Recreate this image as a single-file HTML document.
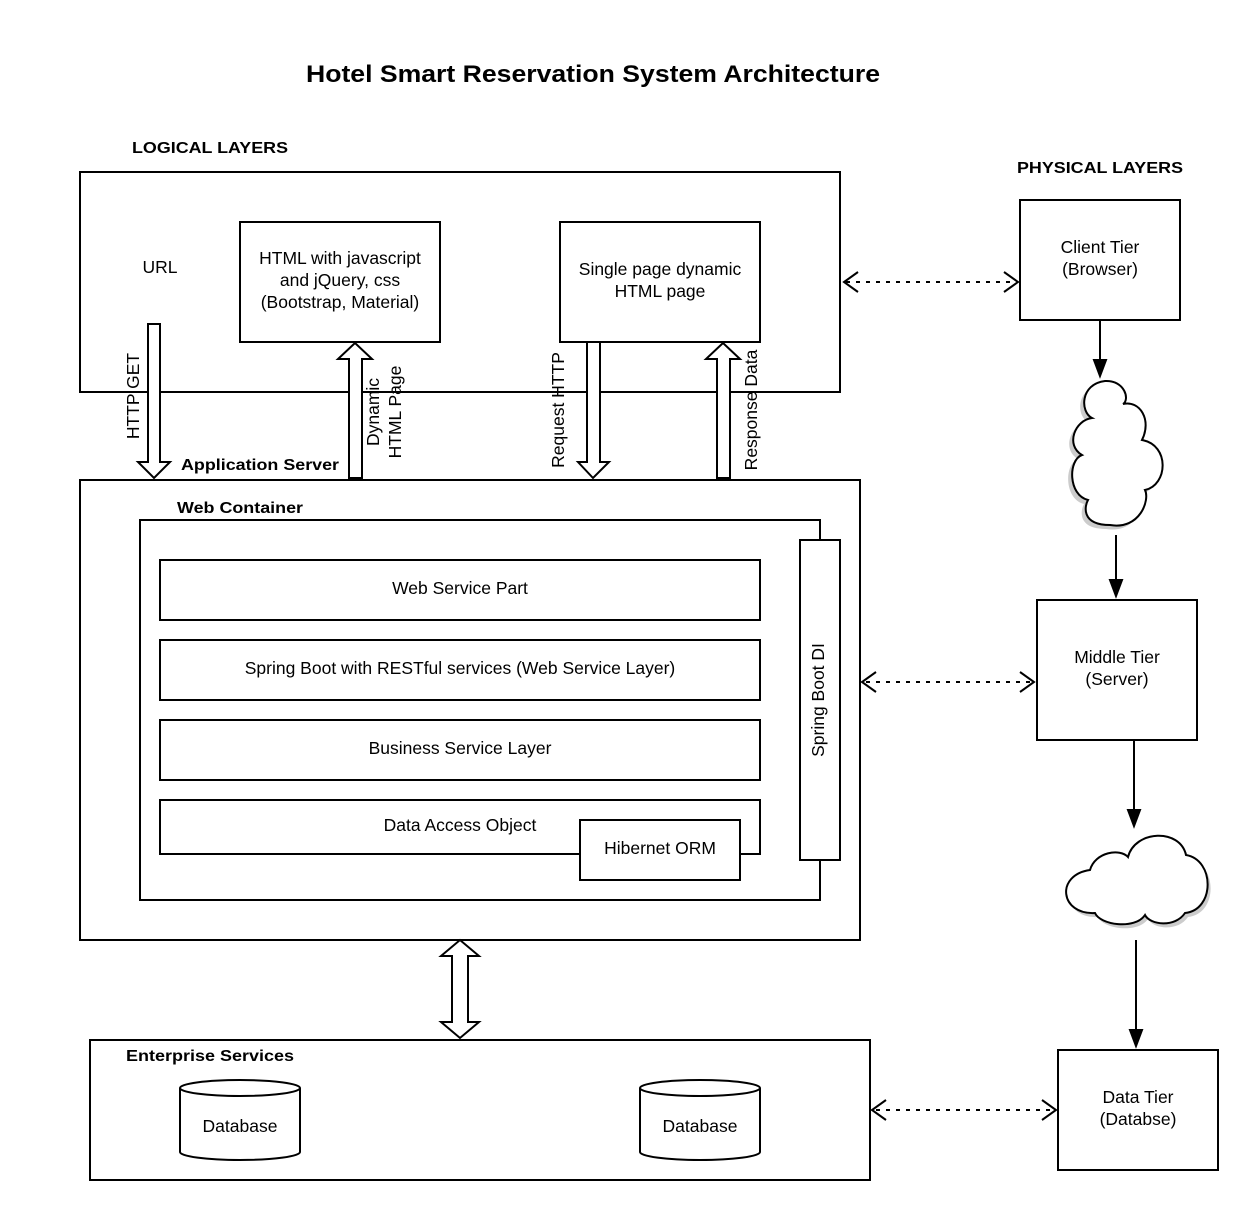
<!DOCTYPE html>
<html><head><meta charset="utf-8"><style>body{margin:0;background:#fff}svg{display:block}</style></head>
<body>
<svg width="1260" height="1220" viewBox="0 0 1260 1220" xmlns="http://www.w3.org/2000/svg" font-family="Liberation Sans, sans-serif">
<rect width="1260" height="1220" fill="#fff"/>
<g fill="#000">
<text x="593" y="82" font-size="24" font-weight="bold" text-anchor="middle" textLength="574" lengthAdjust="spacingAndGlyphs">Hotel Smart Reservation System Architecture</text>
<text x="210" y="153" font-size="16" font-weight="bold" text-anchor="middle" textLength="156" lengthAdjust="spacingAndGlyphs">LOGICAL LAYERS</text>
<text x="1100" y="173" font-size="16" font-weight="bold" text-anchor="middle" textLength="166" lengthAdjust="spacingAndGlyphs">PHYSICAL LAYERS</text>
</g>
<g fill="#fff" stroke="#000" stroke-width="2">
<rect x="80" y="172" width="760" height="220"/>
<rect x="240" y="222" width="200" height="120"/>
<rect x="560" y="222" width="200" height="120"/>
<rect x="80" y="480" width="780" height="460"/>
<rect x="140" y="520" width="680" height="380"/>
<rect x="160" y="560" width="600" height="60"/>
<rect x="160" y="640" width="600" height="60"/>
<rect x="160" y="720" width="600" height="60"/>
<rect x="160" y="800" width="600" height="54"/>
<rect x="580" y="820" width="160" height="60"/>
<rect x="800" y="540" width="40" height="320"/>
<rect x="90" y="1040" width="780" height="140"/>
<rect x="1020" y="200" width="160" height="120"/>
<rect x="1037" y="600" width="160" height="140"/>
<rect x="1058" y="1050" width="160" height="120"/>
<path d="M148 324 H160 V462 H170 L154 478 L138 462 H148 Z"/>
<path d="M349 478 H362 V359 H372 L355 343 L338 359 H349 Z"/>
<path d="M587 342 H600 V462 H609 L593 478 L578 462 H587 Z"/>
<path d="M717 478 H730 V359 H740 L723 343 L706 359 H717 Z"/>
<path d="M452 956 L441 956 L460 940 L479 956 L468 956 V1022 L479 1022 L460 1038 L441 1022 L452 1022 Z"/>
<path d="M180 1088 V1152 A60 8 0 0 0 300 1152 V1088"/>
<ellipse cx="240" cy="1088" rx="60" ry="8"/>
<path d="M640 1088 V1152 A60 8 0 0 0 760 1152 V1088"/>
<ellipse cx="700" cy="1088" rx="60" ry="8"/>
</g>
<g stroke-width="2">
<path d="M1092 418 C1080 412 1080 384 1105 381 C1125 380 1130 400 1123 404 C1140 400 1152 420 1142 440 C1170 445 1168 485 1145 490 C1150 500 1140 530 1110 525 C1080 525 1085 505 1088 500 C1068 495 1068 460 1082 455 C1065 445 1075 420 1092 418 Z" fill="#ccc" stroke="none" transform="translate(-4,4)"/>
<path d="M1092 418 C1080 412 1080 384 1105 381 C1125 380 1130 400 1123 404 C1140 400 1152 420 1142 440 C1170 445 1168 485 1145 490 C1150 500 1140 530 1110 525 C1080 525 1085 505 1088 500 C1068 495 1068 460 1082 455 C1065 445 1075 420 1092 418 Z" fill="#fff" stroke="#000"/>
<path d="M1090 870 C1095 852 1120 848 1128 857 C1135 830 1180 828 1186 855 C1215 860 1215 910 1185 913 C1175 928 1150 925 1145 915 C1135 930 1100 925 1095 913 C1060 915 1055 875 1090 870 Z" fill="#ccc" transform="translate(3,4)"/>
<path d="M1090 870 C1095 852 1120 848 1128 857 C1135 830 1180 828 1186 855 C1215 860 1215 910 1185 913 C1175 928 1150 925 1145 915 C1135 930 1100 925 1095 913 C1060 915 1055 875 1090 870 Z" fill="#fff" stroke="#000"/>
</g>
<g stroke="#000" stroke-width="2" fill="#000">
<line x1="1100" y1="320" x2="1100" y2="362"/><path d="M1094 360 L1106 360 L1100 376 Z"/>
<line x1="1116" y1="535" x2="1116" y2="582"/><path d="M1110 580 L1122 580 L1116 596 Z"/>
<line x1="1134" y1="740" x2="1134" y2="812"/><path d="M1128 810 L1140 810 L1134 826 Z"/>
<line x1="1136" y1="940" x2="1136" y2="1032"/><path d="M1130 1030 L1142 1030 L1136 1046 Z"/>
</g>
<g stroke="#000" stroke-width="2" fill="none">
<line x1="846" y1="282" x2="1014" y2="282" stroke-dasharray="4 6"/>
<path d="M858 272 L844 282 L858 292 M1004 272 L1018 282 L1004 292"/>
<line x1="866" y1="682" x2="1030" y2="682" stroke-dasharray="4 6"/>
<path d="M876 672 L862 682 L876 692 M1020 672 L1034 682 L1020 692"/>
<line x1="876" y1="1110" x2="1052" y2="1110" stroke-dasharray="4 6"/>
<path d="M886 1100 L872 1110 L886 1120 M1042 1100 L1056 1110 L1042 1120"/>
</g>
<g fill="#000" font-size="17.5" text-anchor="middle">
<text x="160" y="273">URL</text>
<text x="340" y="264">HTML with javascript</text>
<text x="340" y="286">and jQuery, css</text>
<text x="340" y="308">(Bootstrap, Material)</text>
<text x="660" y="275">Single page dynamic</text>
<text x="660" y="297">HTML page</text>
<text x="460" y="594">Web Service Part</text>
<text x="460" y="674">Spring Boot with RESTful services (Web Service Layer)</text>
<text x="460" y="754">Business Service Layer</text>
<text x="460" y="831">Data Access Object</text>
<text x="660" y="854">Hibernet ORM</text>
<text x="240" y="1132">Database</text>
<text x="700" y="1132">Database</text>
<text x="1100" y="253">Client Tier</text>
<text x="1100" y="275">(Browser)</text>
<text x="1117" y="663">Middle Tier</text>
<text x="1117" y="685">(Server)</text>
<text x="1138" y="1103">Data Tier</text>
<text x="1138" y="1125">(Databse)</text>
<text transform="translate(824,700) rotate(-90)">Spring Boot DI</text>
<text transform="translate(139,396) rotate(-90)">HTTP GET</text>
<text transform="translate(379,412) rotate(-90)">Dynamic</text>
<text transform="translate(401,412) rotate(-90)">HTML Page</text>
<text transform="translate(564,410) rotate(-90)">Request HTTP</text>
<text transform="translate(757,410) rotate(-90)">Response Data</text>
</g>
<g fill="#000" font-size="16" font-weight="bold">
<text x="181" y="470" textLength="158" lengthAdjust="spacingAndGlyphs">Application Server</text>
<text x="177" y="513" textLength="126" lengthAdjust="spacingAndGlyphs">Web Container</text>
<text x="126" y="1061" textLength="168" lengthAdjust="spacingAndGlyphs">Enterprise Services</text>
</g>
</svg>
</body></html>
